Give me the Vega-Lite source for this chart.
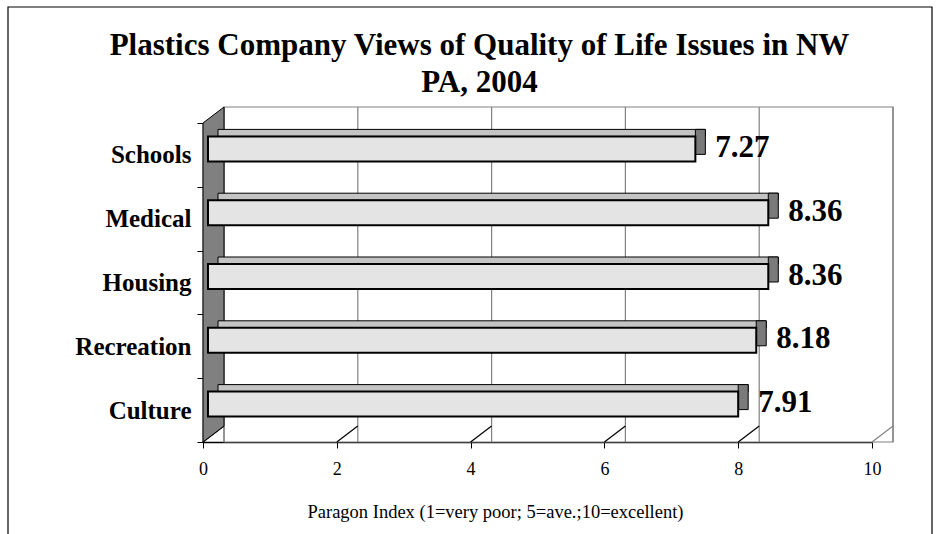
{
  "$schema": "https://vega.github.io/schema/vega-lite/v6.json",
  "width": 669,
  "height": 319,
  "autosize": {"type": "none"},
  "padding": {"left": 203, "top": 123, "right": 68, "bottom": 92},
  "background": "white",
  "title": {
    "text": ["Plastics Company Views of Quality of Life Issues in NW", "PA, 2004"],
    "font": "Liberation Serif",
    "fontSize": 31,
    "fontWeight": "bold",
    "color": "black",
    "lineHeight": 37,
    "anchor": "middle",
    "baseline": "alphabetic",
    "offset": 0,
    "dx": -58,
    "dy": 118
  },
  "datasets": {
    "bars": [
      {"cat": "Schools", "value": 7.27},
      {"cat": "Medical", "value": 8.36},
      {"cat": "Housing", "value": 8.36},
      {"cat": "Recreation", "value": 8.18},
      {"cat": "Culture", "value": 7.91}
    ],
    "grid": [{"t": 0}, {"t": 2}, {"t": 4}, {"t": 6}, {"t": 8}, {"t": 10}],
    "one": [{"k": 1}]
  },
  "config": {
    "view": {"stroke": null},
    "axis": {
      "labelFont": "Liberation Serif",
      "titleFont": "Liberation Serif",
      "labelColor": "black",
      "titleColor": "black",
      "domainColor": "black",
      "tickColor": "black",
      "grid": false
    }
  },
  "layer": [
    {
      "data": {"name": "one"},
      "mark": {"type": "point", "shape": "M-1.95,-2.755L7.29,-2.755L7.29,2.575L-1.95,2.575Z", "size": 40000, "filled": false, "color": "black", "strokeWidth": 1.2, "opacity": 1},
      "encoding": {"x": {"datum": 0, "type": "quantitative", "scale": {"domain": [0, 10], "nice": false}}}
    },
    {
      "data": {"name": "one"},
      "mark": {"type": "rect", "fill": "white", "stroke": "#808080", "strokeWidth": 1.2, "xOffset": 21, "x2Offset": 21, "yOffset": -16, "y2Offset": -16},
      "encoding": {"x": {"datum": 0, "type": "quantitative"}, "x2": {"datum": 10}}
    },
    {
      "data": {"name": "grid"},
      "mark": {"type": "rule", "color": "#808080", "strokeWidth": 1.2, "xOffset": 21, "yOffset": -16, "y2Offset": -16},
      "encoding": {"x": {"field": "t", "type": "quantitative"}}
    },
    {
      "data": {"name": "grid"},
      "mark": {"type": "rule", "strokeWidth": 1.2, "x2Offset": 21, "yOffset": 32, "y2Offset": 16},
      "encoding": {
        "x": {"field": "t", "type": "quantitative"},
        "x2": {"field": "t"},
        "y": {"datum": "Culture", "type": "nominal"},
        "y2": {"datum": "Culture"},
        "color": {"condition": {"test": "datum.t == 10", "value": "#808080"}, "value": "black"}
      }
    },
    {
      "data": {"name": "one"},
      "mark": {"type": "point", "shape": "M0,-1.595L0,1.595L0.21,1.435L0.21,-1.755Z", "size": 40000, "filled": true, "fill": "#808080", "stroke": "black", "strokeWidth": 1, "opacity": 1},
      "encoding": {"x": {"datum": 0, "type": "quantitative"}}
    },
    {
      "data": {"name": "bars"},
      "mark": {"type": "bar", "height": 7, "fill": "#c4c4c4", "stroke": "black", "strokeWidth": 1, "xOffset": 16, "x2Offset": 15, "yOffset": -22},
      "encoding": {
        "x": {"field": "value", "type": "quantitative"},
        "x2": {"datum": 0},
        "y": {"field": "cat", "type": "nominal"}
      }
    },
    {
      "data": {"name": "bars"},
      "mark": {"type": "bar", "height": 25, "fill": "#7a7a7a", "stroke": "black", "strokeWidth": 1, "xOffset": 16, "x2Offset": 6, "yOffset": -13},
      "encoding": {
        "x": {"field": "value", "type": "quantitative"},
        "x2": {"field": "value"},
        "y": {"field": "cat", "type": "nominal"}
      }
    },
    {
      "data": {"name": "bars"},
      "mark": {"type": "bar", "height": 25, "fill": "#e4e4e4", "stroke": "black", "strokeWidth": 2, "xOffset": 6, "x2Offset": 5, "yOffset": -6},
      "encoding": {
        "x": {
          "field": "value",
          "type": "quantitative",
          "axis": {
            "values": [0, 2, 4, 6, 8, 10],
            "format": "d",
            "labelFlush": false,
            "title": "Paragon Index (1=very poor; 5=ave.;10=excellent)",
            "titleFontSize": 18.5,
            "titleFontWeight": "normal",
            "titleX": 292,
            "titleY": 75,
            "titleAlign": "center",
            "titleBaseline": "alphabetic",
            "labelFontSize": 18,
            "labelPadding": 12,
            "tickSize": 6,
            "domainWidth": 1.5
          }
        },
        "x2": {"datum": 0},
        "y": {
          "field": "cat",
          "type": "nominal",
          "scale": {"domain": ["Schools", "Medical", "Housing", "Recreation", "Culture"], "paddingInner": 0, "paddingOuter": 0},
          "axis": {
            "title": null,
            "tickBand": "extent",
            "tickSize": 6,
            "labelFontSize": 25,
            "labelFontWeight": "bold",
            "labelPadding": 6,
            "domainWidth": 1.5
          }
        }
      }
    },
    {
      "data": {"name": "bars"},
      "mark": {"type": "text", "align": "left", "baseline": "middle", "dx": 26, "dy": -7, "font": "Liberation Serif", "fontSize": 31, "fontWeight": "bold", "color": "black"},
      "encoding": {
        "x": {"field": "value", "type": "quantitative"},
        "y": {"field": "cat", "type": "nominal"},
        "text": {"field": "value", "type": "quantitative", "format": ".2f"}
      }
    }
  ]
}
